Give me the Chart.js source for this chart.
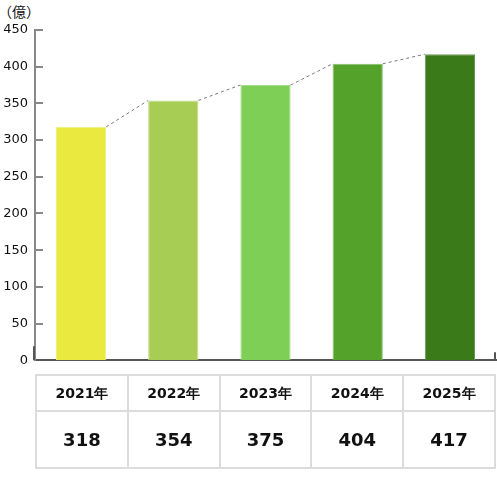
<!DOCTYPE html>
<html>
<head>
<meta charset="utf-8">
<script src="https://cdn.jsdelivr.net/npm/chart.js@4/dist/chart.umd.min.js"></script>
<style>
    body { margin: 0; background: #fff; font-family: "DejaVu Sans", Verdana, sans-serif; }
    #wrap { position: relative; width: 497px; height: 481px; }
    #unit { position: absolute; left: -2px; top: 1px; font-size: 14px; color: #111; font-family: "Noto Sans CJK JP", "DejaVu Sans", sans-serif; }
    #chart-box { position: absolute; left: 0; top: 0; width: 497px; height: 375px; }
    #data-table { position: absolute; left: 35px; top: 374px; width: 461px; border-collapse: collapse; table-layout: fixed; }
    #data-table td { border: 2px solid #dcdcdc; text-align: center; font-weight: bold; color: #111; padding: 0; }
    #data-table tr.years td { height: 32px; font-size: 14px; padding-top: 2px; }
    #data-table tr.vals td { height: 55px; font-size: 18px; }
</style>
</head>
<body>
<div id="wrap">
    <div id="unit">（億）</div>
    <div id="chart-box"><canvas id="barChart"></canvas></div>
    <table id="data-table">
        <tr class="years" id="row-years"></tr>
        <tr class="vals" id="row-vals"></tr>
    </table>
</div>
<script>
// ==================================================
// DATA
// ==================================================
const years = ["2021年", "2022年", "2023年", "2024年", "2025年"];
const revenue = [318, 354, 375, 404, 417];
const barColors = ["#e9e93f", "#a8cd55", "#7dd055", "#55a22b", "#3b7a18"];
const barEdges = ["#eeee88", "#c2dc8c", "#a3de88", "#86bd68", "#6a9a52"];

// ==================================================
// TABLE UNDER THE CHART
// ==================================================
const rowYears = document.getElementById("row-years");
const rowVals = document.getElementById("row-vals");
years.forEach((y, i) => {
    const a = document.createElement("td");
    a.textContent = y;
    rowYears.appendChild(a);
    const b = document.createElement("td");
    b.textContent = revenue[i];
    rowVals.appendChild(b);
});

// ==================================================
// PLUGINS: inner tick marks + dotted connectors
// ==================================================
const innerTicks = {
    id: "innerTicks",
    afterDraw(chart) {
        const ctx = chart.ctx;
        const y = chart.scales.y;
        const area = chart.chartArea;
        ctx.save();
        ctx.strokeStyle = "#888";
        ctx.lineWidth = 2;
        y.ticks.forEach(t => {
            if (t.value === 0) return;
            const py = Math.round(y.getPixelForValue(t.value));
            ctx.beginPath();
            ctx.moveTo(area.left, py);
            ctx.lineTo(area.left + 8, py);
            ctx.stroke();
        });
        // small end marks on the baseline
        ctx.strokeStyle = "#555";
        ctx.beginPath();
        ctx.moveTo(area.left - 1, area.bottom);
        ctx.lineTo(area.left - 1, area.bottom - 14);
        ctx.moveTo(area.right - 1, area.bottom);
        ctx.lineTo(area.right - 1, area.bottom - 8);
        ctx.stroke();
        ctx.restore();
    }
};

const connectors = {
    id: "connectors",
    afterDatasetsDraw(chart) {
        const ctx = chart.ctx;
        const bars = chart.getDatasetMeta(0).data;
        ctx.save();
        ctx.strokeStyle = "#777";
        ctx.lineWidth = 1;
        ctx.setLineDash([3, 3]);
        for (let i = 0; i < bars.length - 1; i++) {
            const a = bars[i], b = bars[i + 1];
            ctx.beginPath();
            ctx.moveTo(a.x + a.width / 2, a.y);
            ctx.lineTo(b.x - b.width / 2, b.y);
            ctx.stroke();
        }
        ctx.restore();
    }
};

// ==================================================
// CHART
// ==================================================
const ctx = document.getElementById("barChart").getContext("2d");
new Chart(ctx, {
    type: "bar",
    data: {
        labels: years,
        datasets: [{
            data: revenue,
            backgroundColor: barColors,
            borderColor: barEdges,
            borderWidth: 1,
            categoryPercentage: 1,
            barPercentage: 0.545
        }]
    },
    options: {
        responsive: true,
        maintainAspectRatio: false,
        animation: false,
        layout: { padding: { top: 30, right: 1, left: 0, bottom: 0 } },
        plugins: {
            legend: { display: false },
            tooltip: { enabled: false }
        },
        scales: {
            x: {
                ticks: { display: false },
                grid: { display: false },
                border: { display: true, color: "#555", width: 2 },
                afterFit(scale) { scale.height = 2; }
            },
            y: {
                min: 0,
                max: 450,
                ticks: {
                    stepSize: 50,
                    color: "#111",
                    padding: 7,
                    font: { family: "DejaVu Sans", size: 13 }
                },
                grid: { display: false, drawTicks: false },
                border: { display: true, color: "#888", width: 2 },
                afterFit(scale) { scale.width = 35; }
            }
        }
    },
    plugins: [innerTicks, connectors]
});
</script>
</body>
</html>
